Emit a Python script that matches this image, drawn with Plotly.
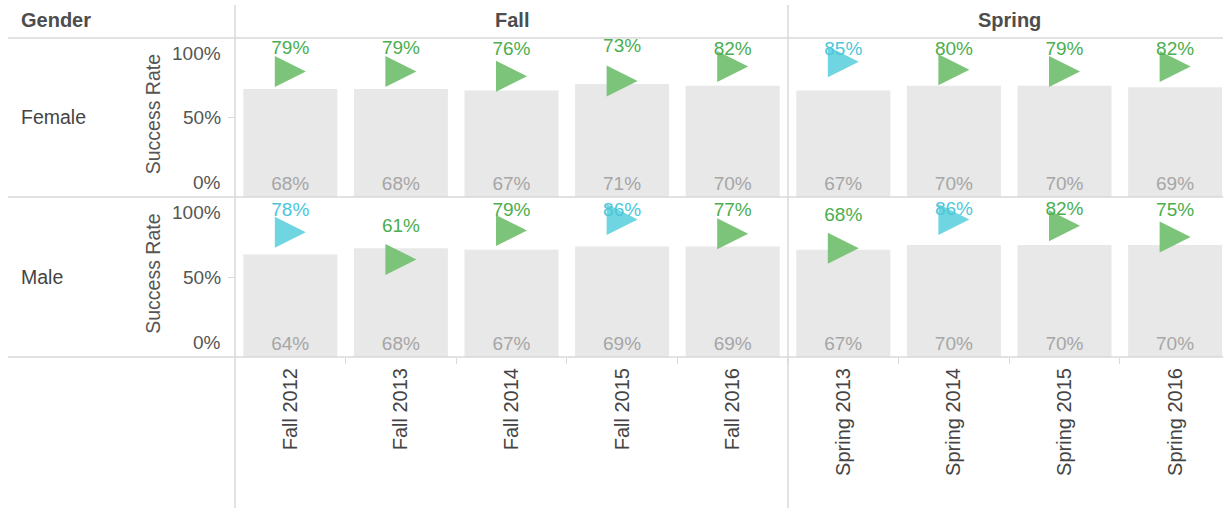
import plotly.graph_objects as go

# ---------------- data ----------------
categories = ["Fall 2012", "Fall 2013", "Fall 2014", "Fall 2015", "Fall 2016",
              "Spring 2013", "Spring 2014", "Spring 2015", "Spring 2016"]
terms = ["Fall"] * 5 + ["Spring"] * 4
genders = ["Female", "Male"]

# grey bars (overall success rate)
female_overall = [68, 68, 67, 71, 70, 67, 70, 70, 69]
male_overall = [64, 68, 67, 69, 69, 67, 70, 70, 70]

# triangle markers (group success rate)
female_rate = [79, 79, 76, 73, 82, 85, 80, 79, 82]
male_rate = [78, 61, 79, 86, 77, 68, 86, 82, 75]

# marker category (flag)
female_flag = ["n", "n", "n", "n", "n", "y", "n", "n", "n"]
male_flag = ["y", "n", "n", "y", "n", "n", "y", "n", "n"]

# vertical level (in % of the axis) at which each marker label sits
female_label_pos = [93, 93, 92, 94, 92, 92, 92, 92, 92]
male_label_pos = [91, 81, 91, 91, 91, 88, 92, 92, 91]

ytick_vals = [0, 50, 100]
ytick_text = ["0%", "50%", "100%"]

# ---------------- style ----------------
FONT = "Liberation Sans, Arial, sans-serif"
W, H = 1223, 508
BAR_COLOR = "#E8E8E8"
MARK_COL = {"n": "#7CC47A", "y": "#6FD5E0"}
TEXT_COL = {"n": "#4BAE4F", "y": "#4CC7D9"}
GREY_TXT = "#A6A6A6"
LINE_COL = "#D9D9D9"
LABEL_COL = "#555555"
FS_NUM = 19
FS_WORD = 19.5
FS_HEAD = 20

x_left_px = 235
col_px = 110.6
idx = list(range(len(categories)))
x_range = [-0.5, -0.5 + (W - x_left_px) / col_px]
marker_size = 31
tip_offset = (marker_size / 2) / col_px   # arrow tip sits right of centre


def py(px):
    return 1 - px / H


pane_px = {"Female": (38, 197), "Male": (197, 357)}
yaxes = {"Female": "y", "Male": "y2"}

fig = go.Figure()
data = {
    "Female": (female_overall, female_rate, female_flag, female_label_pos),
    "Male": (male_overall, male_rate, male_flag, male_label_pos),
}

for g in genders:
    overall, rate, flag, lpos = data[g]
    ya = yaxes[g]
    fig.add_trace(go.Bar(
        x=idx, y=overall, xaxis="x", yaxis=ya, width=0.85,
        marker=dict(color=BAR_COLOR, line=dict(width=0)),
        text=[f"{v}%" for v in overall], textposition="inside",
        insidetextanchor="start", constraintext="none",
        insidetextfont=dict(family=FONT, size=FS_NUM, color=GREY_TXT),
        showlegend=False, hoverinfo="skip",
    ))
    fig.add_trace(go.Scatter(
        x=[i + tip_offset for i in idx], y=rate, xaxis="x", yaxis=ya,
        mode="markers",
        marker=dict(symbol="arrow-right", size=marker_size,
                    color=[MARK_COL[f] for f in flag], line=dict(width=0)),
        showlegend=False, hoverinfo="skip",
    ))
    fig.add_trace(go.Scatter(
        x=idx, y=lpos, xaxis="x", yaxis=ya,
        mode="text", cliponaxis=False,
        text=[f"{v}%" for v in rate], textposition="middle center",
        textfont=dict(family=FONT, size=FS_NUM, color=[TEXT_COL[f] for f in flag]),
        showlegend=False, hoverinfo="skip",
    ))

shapes = []
# horizontal separators
for ypx in (38, 197, 357):
    shapes.append(dict(type="line", xref="paper", yref="paper",
                       x0=8 / W, x1=1, y0=py(ypx), y1=py(ypx),
                       line=dict(color=LINE_COL, width=1.5)))
# vertical separators
shapes.append(dict(type="line", xref="paper", yref="paper",
                   x0=x_left_px / W, x1=x_left_px / W, y0=py(5), y1=0,
                   line=dict(color=LINE_COL, width=1.5)))
n_fall = terms.count("Fall")
shapes.append(dict(type="line", xref="x", yref="paper",
                   x0=n_fall - 0.5, x1=n_fall - 0.5, y0=py(5), y1=0,
                   line=dict(color=LINE_COL, width=1.5)))

annotations = [
    dict(text="<b>Gender</b>", xref="paper", yref="paper", x=19 / W, y=py(20),
         xanchor="left", yanchor="middle", showarrow=False,
         font=dict(family=FONT, size=FS_HEAD, color="#4D4D4D")),
]
for t in ["Fall", "Spring"]:
    pos = [i for i, tt in enumerate(terms) if tt == t]
    annotations.append(dict(
        text=f"<b>{t}</b>", xref="x", yref="paper",
        x=sum(pos) / len(pos), y=py(20), xanchor="center", yanchor="middle",
        showarrow=False, font=dict(family=FONT, size=FS_HEAD, color="#4D4D4D")))

for g in genders:
    ya = yaxes[g]
    annotations.append(dict(
        text=g, xref="paper", yref=f"{ya} domain", x=19 / W, y=0.5,
        xanchor="left", yanchor="middle", showarrow=False,
        font=dict(family=FONT, size=FS_WORD, color="#444444")))
    annotations.append(dict(
        text="Success Rate", xref="paper", yref=f"{ya} domain", x=153 / W, y=0.52,
        xanchor="center", yanchor="middle", textangle=-90, showarrow=False,
        font=dict(family=FONT, size=FS_WORD, color=LABEL_COL)))
    for v, t in zip(ytick_vals, ytick_text):
        anchor = "top" if v == max(ytick_vals) else ("bottom" if v == min(ytick_vals) else "middle")
        annotations.append(dict(
            text=t, xref="paper", yref=ya, x=223 / W, y=v,
            xanchor="right", yanchor=anchor, showarrow=False,
            yshift=-3 if anchor == "top" else (2 if anchor == "bottom" else 0),
            font=dict(family=FONT, size=FS_NUM, color=LABEL_COL)))

yax_common = dict(range=[0, 100], showgrid=False, zeroline=False,
                  showline=False, tickmode="array", tickvals=[50],
                  ticks="outside", ticklen=6, tickcolor=LINE_COL,
                  showticklabels=False, fixedrange=True)

fig.update_layout(
    width=W, height=H,
    margin=dict(l=0, r=0, t=0, b=0),
    paper_bgcolor="white", plot_bgcolor="white",
    barmode="overlay",
    font=dict(family=FONT, size=FS_NUM, color=LABEL_COL),
    xaxis=dict(domain=[x_left_px / W, 1], range=x_range, anchor="y2",
               tickmode="array", tickvals=idx, ticktext=categories,
               tickangle=-90, ticks="", showgrid=False, zeroline=False,
               showline=False, ticklabelstandoff=6, fixedrange=True,
               tickfont=dict(family=FONT, size=FS_WORD + 0.5, color="#444444"),
               minor=dict(tickmode="array", tickvals=[i + 0.5 for i in idx[:-1]],
                          ticks="outside", ticklen=6, tickcolor=LINE_COL,
                          showgrid=False)),
    yaxis=dict(domain=[py(pane_px["Female"][1]), py(pane_px["Female"][0])],
               anchor="x", **yax_common),
    yaxis2=dict(domain=[py(pane_px["Male"][1]), py(pane_px["Male"][0])],
                anchor="x", **yax_common),
    shapes=shapes,
    annotations=annotations,
)

fig.write_html("out.html", config={"displayModeBar": False},
               post_script="document.body.style.margin='0px';")
